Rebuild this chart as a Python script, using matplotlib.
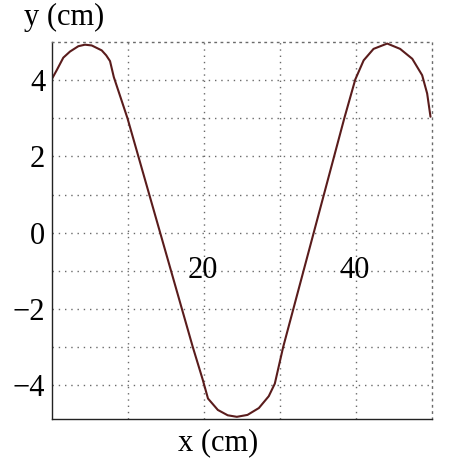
import matplotlib
matplotlib.use("Agg")
import matplotlib.pyplot as plt

# curve (x in cm, y in cm)
x_cm = [0, 0.58, 1.45, 2.33, 3.43, 4.3, 5.19, 6.51, 7.1, 7.6, 8.1, 9.9,
        18.5, 19.8, 20.5, 21.8, 23.1, 24.3, 25.7, 27.2, 28.5, 29.3, 30.4,
        38.45, 39.9, 41.0, 42.3, 44.1, 45.8, 47.4, 48.7, 49.36, 49.8]
y_cm = [4.05, 4.26, 4.59, 4.75, 4.89, 4.93, 4.91, 4.78, 4.65, 4.5, 4.08, 3.0,
        -3.0, -3.85, -4.35, -4.65, -4.79, -4.83, -4.78, -4.6, -4.29, -3.96, -3.0,
        3.0, 4.02, 4.52, 4.82, 4.96, 4.82, 4.56, 4.13, 3.65, 3.04]

y_ticks = [-4, -2, 0, 2, 4]
y_minor = [-3, -1, 1, 3]
x_grid = [10, 20, 30, 40]
x_labels = [20, 40]

plt.rcParams['font.family'] = ['Liberation Serif', 'DejaVu Serif']

fig = plt.figure(figsize=(4.56, 4.70), dpi=100)
ax = fig.add_axes([0.1147, 0.1091, 0.8327, 0.8015])

grey = '#6a6a6a'
dots = dict(color=grey, linewidth=1.0, linestyle=(0, (1, 3.5)))
ax.set_xlim(0, 50)
ax.set_ylim(-4.88, 5.0)
ax.set_xticks(x_grid)
ax.set_yticks(y_ticks)
ax.set_yticks(y_minor, minor=True)
ax.grid(True, which='both', **dots)
ax.tick_params(axis='both', which='both', length=0)
ax.tick_params(axis='y', labelsize=22, pad=5)
ax.set_xticklabels([])
ax.set_yticklabels(['\u2212%d' % -t if t < 0 else str(t) for t in y_ticks])

for side in ['top', 'right']:
    ax.spines[side].set_color(grey)
    ax.spines[side].set_linestyle((0, (1, 3.5)))
    ax.spines[side].set_linewidth(1.0)
for side in ['left', 'bottom']:
    ax.spines[side].set_color('#222222')
    ax.spines[side].set_linewidth(1.0)

ax.plot(x_cm, y_cm, color='#5a1c1c', linewidth=1.5,
        solid_joinstyle='round', solid_capstyle='round')

# x tick labels sit inside the plot, on the y = -1 line
for t in x_labels:
    ax.text(t - 0.2, -1, str(t), ha='center', va='center', fontsize=22)

fig.text(64 / 456, 1 - 17 / 470, 'y (cm)', ha='center', va='center', fontsize=22)
fig.text(218 / 456, 1 - 443 / 470, 'x (cm)', ha='center', va='center', fontsize=22)

fig.savefig('out.png', dpi=100)
